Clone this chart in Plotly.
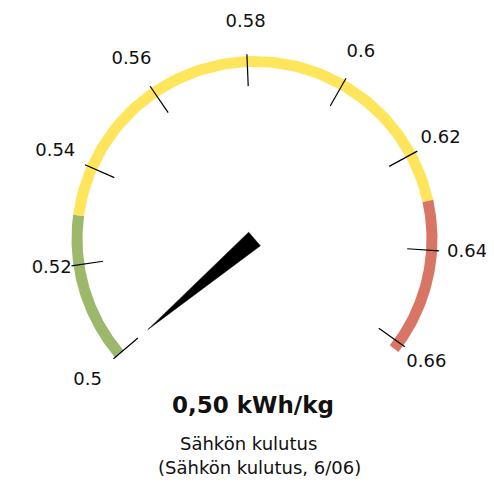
import numpy as np
import plotly.graph_objects as go

# ---- data ----
gauge_min = 0.50
gauge_max = 0.66
tick_values = [0.50, 0.52, 0.54, 0.56, 0.58, 0.60, 0.62, 0.64, 0.66]
tick_labels = ["0.5", "0.52", "0.54", "0.56", "0.58", "0.6", "0.62", "0.64", "0.66"]
band_from = [0.50, 0.53, 0.63]
band_to = [0.53, 0.63, 0.66]
band_colors = ["#9CB86B", "#FFE55C", "#D97565"]
value = 0.50
value_text = "0,50 kWh/kg"
title_text = "Sähkön kulutus"
subtitle_text = "(Sähkön kulutus, 6/06)"

# ---- gauge geometry (pixel space of the page) ----
W, H = 494, 486
PAGE_OFF = 8  # default body margin of the page
CX, CY = 254.5, 239.0
START_DEG = 220.35
SWEEP_DEG = 256.0
R_BAND_OUT, R_BAND_IN = 183.0, 172.0
R_TICK_OUT, R_TICK_IN = 185.0, 153.0
LABEL_RADII = [219, 205, 217.5, 218, 217, 215, 211.5, 213, 211.5]
R_NEEDLE = 140.0
NEEDLE_HALF = 9.0
END_CAP_DEG = 2.5


def ang_deg(v):
    return START_DEG - (v - gauge_min) / (gauge_max - gauge_min) * SWEEP_DEG


def ang(v):
    return np.deg2rad(ang_deg(v))


def pt(v, r):
    a = ang(v)
    return CX + r * np.cos(a), CY - r * np.sin(a)


fig = go.Figure()

# colour bands
for i, (v0, v1, col) in enumerate(zip(band_from, band_to, band_colors)):
    a0 = ang_deg(v0)
    a1 = ang_deg(v1) - (END_CAP_DEG if i == len(band_from) - 1 else 0)
    aa = np.deg2rad(np.linspace(a0, a1, 80))
    xo, yo = CX + R_BAND_OUT * np.cos(aa), CY - R_BAND_OUT * np.sin(aa)
    xi, yi = CX + R_BAND_IN * np.cos(aa[::-1]), CY - R_BAND_IN * np.sin(aa[::-1])
    fig.add_trace(go.Scatter(
        x=np.concatenate([xo, xi, xo[:1]]), y=np.concatenate([yo, yi, yo[:1]]),
        mode="lines", fill="toself", fillcolor=col, line=dict(width=0, color=col),
        hoverinfo="skip", showlegend=False))

# ticks
tx, ty = [], []
for v in tick_values:
    x0, y0 = pt(v, R_TICK_OUT)
    x1, y1 = pt(v, R_TICK_IN)
    tx += [x0, x1, None]
    ty += [y0, y1, None]
fig.add_trace(go.Scatter(x=tx, y=ty, mode="lines", line=dict(color="black", width=1.2),
                         hoverinfo="skip", showlegend=False))

# tick labels
lx, ly = [], []
for v, r in zip(tick_values, LABEL_RADII):
    x, y = pt(v, r)
    lx.append(x)
    ly.append(y)
fig.add_trace(go.Scatter(x=lx, y=ly, mode="text", text=tick_labels,
                         textposition="middle center",
                         textfont=dict(family="DejaVu Sans", size=18, color="#111111"),
                         hoverinfo="skip", showlegend=False))

# needle
a = ang(value)
perp = a + np.pi / 2
bx1, by1 = CX + NEEDLE_HALF * np.cos(perp), CY - NEEDLE_HALF * np.sin(perp)
bx2, by2 = CX - NEEDLE_HALF * np.cos(perp), CY + NEEDLE_HALF * np.sin(perp)
tipx, tipy = pt(value, R_NEEDLE)
fig.add_trace(go.Scatter(x=[bx1, tipx, bx2, bx1], y=[by1, tipy, by2, by1],
                         mode="lines", fill="toself", fillcolor="black",
                         line=dict(width=0.5, color="black"),
                         hoverinfo="skip", showlegend=False))

# texts
fig.add_annotation(x=252.5, y=405, text="<b>" + value_text + "</b>", showarrow=False,
                   font=dict(family="DejaVu Sans", size=23, color="#111111"))
fig.add_annotation(x=248, y=443, text=title_text, showarrow=False,
                   font=dict(family="DejaVu Sans", size=18, color="#111111"))
fig.add_annotation(x=259, y=467, text=subtitle_text, showarrow=False,
                   font=dict(family="DejaVu Sans", size=18, color="#111111"))

fig.update_layout(
    width=W - PAGE_OFF, height=H - PAGE_OFF, margin=dict(l=0, r=0, t=0, b=0),
    paper_bgcolor="white", plot_bgcolor="white",
    xaxis=dict(range=[PAGE_OFF, W], visible=False, fixedrange=True),
    yaxis=dict(range=[H, PAGE_OFF], visible=False, fixedrange=True),
    showlegend=False,
)
fig.write_html("out.html")
